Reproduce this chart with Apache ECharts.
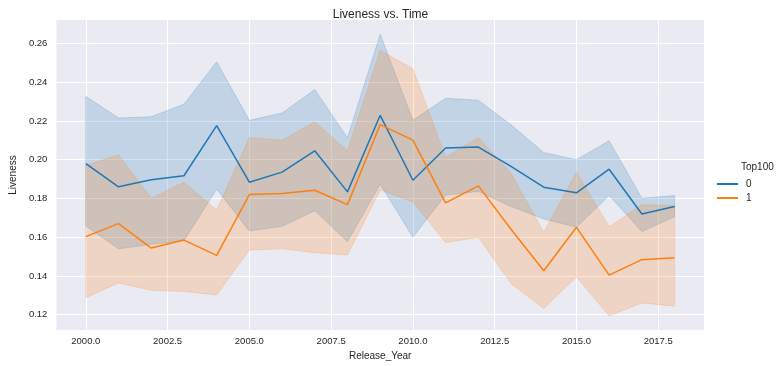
<!DOCTYPE html>
<html>
<head>
<meta charset="utf-8">
<script src="https://cdn.jsdelivr.net/npm/echarts@6/dist/echarts.min.js"></script>
<style>html,body{margin:0;padding:0;background:#fff}#c{width:783px;height:366px}</style>
</head>
<body>
<div id="c"></div>
<script>
const years = [2000,2001,2002,2003,2004,2005,2006,2007,2008,2009,2010,2011,2012,2013,2014,2015,2016,2017,2018];
const mean0  = [0.1980,0.1860,0.1896,0.1917,0.2176,0.1884,0.1936,0.2046,0.1834,0.2229,0.1894,0.2060,0.2065,0.1965,0.1858,0.1829,0.1951,0.1720,0.1758];
const upper0 = [0.2327,0.2215,0.2222,0.2286,0.2505,0.2203,0.2241,0.2362,0.2113,0.2648,0.2203,0.2317,0.2307,0.2180,0.2037,0.2000,0.2098,0.1801,0.1815];
const lower0 = [0.1658,0.1540,0.1563,0.1582,0.1848,0.1632,0.1656,0.1737,0.1577,0.1873,0.1600,0.1818,0.1836,0.1758,0.1694,0.1651,0.1815,0.1629,0.1706];
const mean1  = [0.1603,0.1670,0.1544,0.1585,0.1506,0.1820,0.1825,0.1842,0.1768,0.2181,0.2101,0.1777,0.1865,0.1641,0.1427,0.1651,0.1404,0.1484,0.1494];
const upper1 = [0.1970,0.2025,0.1801,0.1884,0.1740,0.2115,0.2100,0.2196,0.2046,0.2565,0.2469,0.2012,0.2115,0.1930,0.1625,0.1936,0.1654,0.1767,0.1763];
const lower1 = [0.1287,0.1364,0.1326,0.1320,0.1302,0.1534,0.1540,0.1520,0.1508,0.1844,0.1782,0.1572,0.1600,0.1361,0.1232,0.1394,0.1194,0.1261,0.1244];
const xTicks = [2000,2002.5,2005,2007.5,2010,2012.5,2015,2017.5];
const yTicks = [0.12,0.14,0.16,0.18,0.20,0.22,0.24,0.26];
const groups = ['0','1'];

const FONT = 'Liberation Sans, Arial, sans-serif';
const TXT = '#262626';
const C0 = '#1f77b4', C1 = '#ff7f0e';

function bandSeries(lower, upper, fill, edge) {
  return {
    type: 'custom',
    silent: true,
    data: years.map((y, i) => [y, lower[i], upper[i]]),
    renderItem: function (params, api) {
      if (params.dataIndex !== 0) return null;
      const pts = [];
      for (let i = 0; i < years.length; i++) pts.push(api.coord([years[i], upper[i]]));
      for (let i = years.length - 1; i >= 0; i--) pts.push(api.coord([years[i], lower[i]]));
      return {
        type: 'polygon',
        shape: { points: pts },
        style: { fill: fill, stroke: edge, lineWidth: 1 }
      };
    },
    z: 1
  };
}

const chart = echarts.init(document.getElementById('c'), null, { renderer: 'canvas' });
chart.setOption({
  animation: false,
  backgroundColor: '#ffffff',
  textStyle: { fontFamily: FONT, color: TXT },
  title: {
    text: 'Liveness vs. Time',
    left: 375.5, top: 4, textAlign: 'center',
    textStyle: { fontFamily: FONT, fontSize: 12, fontWeight: 'normal', color: TXT }
  },
  grid: { left: 48, right: 79, top: 20, bottom: 36, show: true, backgroundColor: '#eaeaf2', borderWidth: 0 },
  xAxis: {
    type: 'value', min: 1999.1, max: 2018.9,
    name: 'Release_Year', nameLocation: 'middle', nameGap: 20,
    nameTextStyle: { fontFamily: FONT, fontSize: 10, color: TXT },
    axisLine: { show: false },
    axisTick: { show: false, customValues: xTicks },
    axisLabel: { customValues: xTicks, formatter: v => v.toFixed(1), fontFamily: FONT, fontSize: 9.5, color: TXT, margin: 6 },
    splitLine: { show: true, lineStyle: { color: '#ffffff', width: 1 } }
  },
  yAxis: {
    type: 'value', min: 0.1121, max: 0.2721,
    name: 'Liveness', nameLocation: 'middle', nameGap: 36,
    nameTextStyle: { fontFamily: FONT, fontSize: 10, color: TXT },
    axisLine: { show: false },
    axisTick: { show: false, customValues: yTicks },
    axisLabel: { customValues: yTicks, formatter: v => v.toFixed(2), fontFamily: FONT, fontSize: 9.5, color: TXT, margin: 9 },
    splitLine: { show: true, lineStyle: { color: '#ffffff', width: 1 } }
  },
  legend: {
    orient: 'vertical', left: 712, top: 174,
    itemWidth: 21, itemHeight: 10, itemGap: 4,
    icon: 'path://M0,4 L21,4 L21,6 L0,6 Z',
    textStyle: { fontFamily: FONT, fontSize: 10, color: TXT, padding: [0, 0, 0, 3] },
    data: groups
  },
  graphic: [{
    type: 'text', left: 741, top: 162,
    style: { text: 'Top100', fontFamily: FONT, fontSize: 10, fill: TXT }
  }],
  series: [
    bandSeries(lower0, upper0, 'rgba(31,119,180,0.2)', 'rgba(31,119,180,0.2)'),
    bandSeries(lower1, upper1, 'rgba(255,127,14,0.2)', 'rgba(255,127,14,0.2)'),
    {
      name: groups[0], type: 'line', data: years.map((y, i) => [y, mean0[i]]),
      symbol: 'none', lineStyle: { color: C0, width: 1.5 }, itemStyle: { color: C0 }, z: 3
    },
    {
      name: groups[1], type: 'line', data: years.map((y, i) => [y, mean1[i]]),
      symbol: 'none', lineStyle: { color: C1, width: 1.5 }, itemStyle: { color: C1 }, z: 3
    }
  ]
});
</script>
</body>
</html>
